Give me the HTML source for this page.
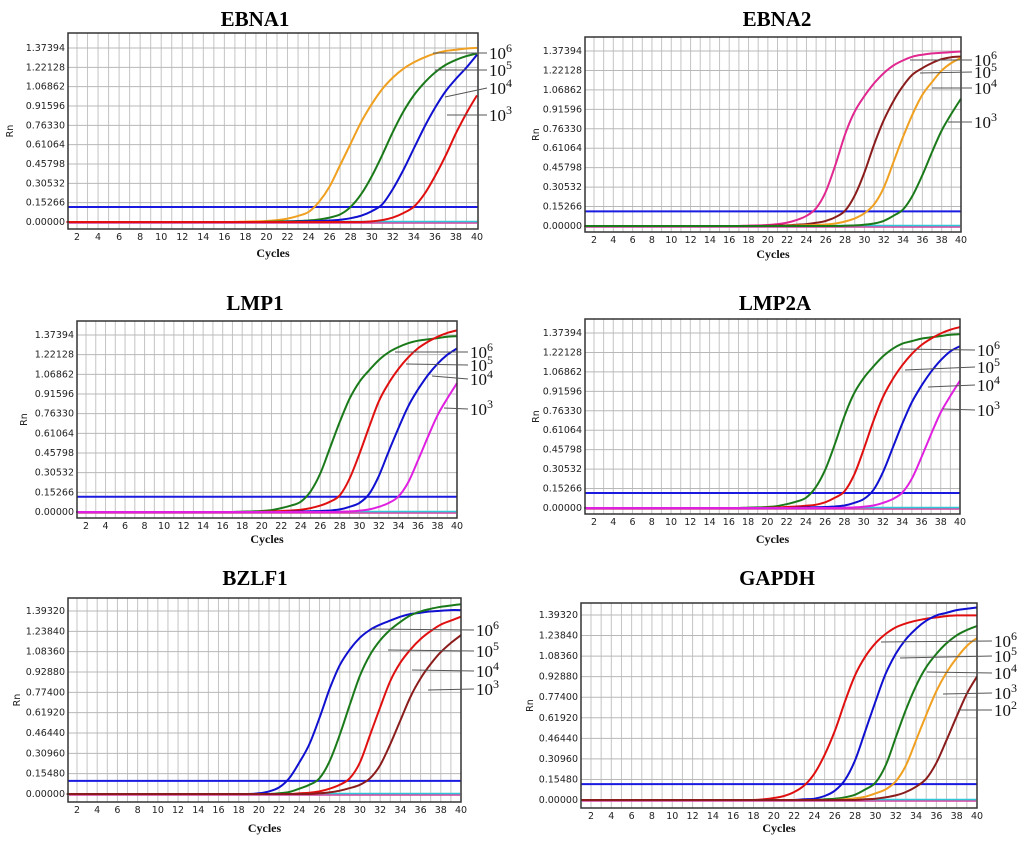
<!DOCTYPE html>
<html><head><meta charset="utf-8"><style>
html,body{margin:0;padding:0;background:#fff}
svg{display:block}
.tk{font-family:"DejaVu Sans",sans-serif;font-size:9.5px;fill:#222}
.tt{font-family:"Liberation Serif",serif;font-weight:bold;font-size:21px;fill:#000}
.cy{font-family:"Liberation Serif",serif;font-weight:bold;font-size:12px;fill:#111}
.lb{font-family:"Liberation Serif",serif;font-size:17px;fill:#111}
</style></head><body>
<svg id="fig" width="1024" height="846" viewBox="0 0 1024 846" xmlns="http://www.w3.org/2000/svg"></svg>
<script>
// cycles for which curve values are given (earlier cycles are baseline 0)
const cycles=[18,19,20,21,22,23,24,25,26,27,28,29,30,31,32,33,34,35,36,37,38,39,40];
const xTickLabels=[2,4,6,8,10,12,14,16,18,20,22,24,26,28,30,32,34,36,38,40];
const yTicksA=["0.00000","0.15266","0.30532","0.45798","0.61064","0.76330","0.91596","1.06862","1.22128","1.37394"];
const yTicksB=["0.00000","0.15480","0.30960","0.46440","0.61920","0.77400","0.92880","1.08360","1.23840","1.39320"];
const titles=["EBNA1","EBNA2","LMP1","LMP2A","BZLF1","GAPDH"];
const thresholds=[0.118,0.115,0.118,0.118,0.10,0.12];
const copyLabels=["6","5","4","3","2"];
// EBNA1
const e1Orange=[0.003,0.005,0.008,0.015,0.027,0.048,0.08,0.16,0.28,0.45,0.62,0.79,0.93,1.05,1.14,1.21,1.26,1.30,1.33,1.35,1.36,1.37,1.375];
const e1Green=[0,0,0.002,0.004,0.006,0.008,0.012,0.02,0.035,0.06,0.12,0.22,0.36,0.53,0.71,0.87,1.0,1.1,1.18,1.24,1.28,1.31,1.33];
const e1Blue=[0,0,0,0,0.002,0.004,0.006,0.008,0.012,0.018,0.03,0.05,0.085,0.14,0.26,0.41,0.58,0.75,0.9,1.03,1.13,1.22,1.32];
const e1Red=[0,0,0,0,0,0,0,0,0,0,0,0,0.005,0.015,0.035,0.07,0.12,0.22,0.36,0.52,0.7,0.86,1.0];
// EBNA2
const e2Pink=[0.003,0.005,0.008,0.015,0.027,0.048,0.08,0.14,0.27,0.48,0.72,0.9,1.02,1.12,1.2,1.26,1.3,1.33,1.345,1.355,1.36,1.365,1.37];
const e2Brown=[0,0,0.002,0.004,0.006,0.01,0.015,0.025,0.04,0.07,0.12,0.24,0.42,0.64,0.83,0.98,1.1,1.19,1.24,1.28,1.31,1.325,1.33];
const e2Orange=[0,0,0,0,0.002,0.004,0.006,0.008,0.012,0.02,0.035,0.06,0.1,0.17,0.3,0.5,0.7,0.88,1.03,1.13,1.22,1.28,1.32];
const e2Green=[0,0,0,0,0,0,0,0,0,0,0.002,0.005,0.01,0.02,0.04,0.08,0.13,0.24,0.4,0.58,0.75,0.88,1.0];
// LMP1
const l1Green=[0.003,0.005,0.008,0.015,0.03,0.05,0.08,0.16,0.3,0.5,0.7,0.88,1.01,1.1,1.18,1.24,1.28,1.31,1.33,1.34,1.35,1.36,1.365];
const l1Red=[0,0,0.002,0.004,0.008,0.012,0.018,0.03,0.05,0.08,0.13,0.26,0.45,0.66,0.86,1.0,1.11,1.2,1.27,1.32,1.36,1.39,1.41];
const l1Blue=[0,0,0,0,0,0.002,0.004,0.006,0.008,0.012,0.02,0.04,0.07,0.14,0.28,0.47,0.65,0.82,0.95,1.06,1.15,1.22,1.27];
const l1Magenta=[0,0,0,0,0,0,0,0,0,0,0.002,0.005,0.01,0.02,0.04,0.07,0.12,0.23,0.4,0.58,0.75,0.88,1.0];
// LMP2A
const l2Green=[0.003,0.005,0.008,0.015,0.03,0.05,0.08,0.16,0.3,0.5,0.72,0.9,1.02,1.11,1.19,1.25,1.29,1.31,1.33,1.34,1.35,1.36,1.365];
const l2Red=[0,0,0.002,0.004,0.008,0.012,0.018,0.025,0.045,0.08,0.13,0.26,0.46,0.68,0.87,1.01,1.12,1.21,1.28,1.33,1.37,1.4,1.42];
const l2Blue=[0,0,0,0,0,0.002,0.004,0.006,0.008,0.012,0.02,0.04,0.07,0.14,0.28,0.47,0.66,0.83,0.96,1.07,1.16,1.23,1.27];
const l2Magenta=[0,0,0,0,0,0,0,0,0,0,0.002,0.005,0.01,0.02,0.04,0.07,0.12,0.23,0.4,0.58,0.75,0.88,1.0];
// BZLF1
const bzBlue=[0,0,0.005,0.02,0.05,0.12,0.24,0.38,0.58,0.8,0.98,1.1,1.19,1.25,1.29,1.32,1.35,1.37,1.38,1.39,1.395,1.4,1.4];
const bzGreen=[0,0,0,0,0.005,0.015,0.04,0.07,0.12,0.25,0.45,0.68,0.9,1.06,1.17,1.25,1.31,1.36,1.39,1.41,1.425,1.435,1.445];
const bzRed=[0,0,0,0,0,0,0.005,0.01,0.02,0.04,0.07,0.12,0.24,0.45,0.66,0.86,1.0,1.1,1.18,1.24,1.29,1.32,1.35];
const bzBrown=[0,0,0,0,0,0,0,0,0.005,0.012,0.025,0.045,0.07,0.12,0.22,0.38,0.56,0.74,0.88,0.99,1.08,1.15,1.21];
// GAPDH
const gRed=[0,0.005,0.015,0.03,0.06,0.11,0.2,0.34,0.52,0.74,0.94,1.08,1.18,1.25,1.3,1.33,1.35,1.365,1.375,1.385,1.39,1.39,1.39];
const gBlue=[0,0,0,0,0,0.005,0.01,0.03,0.07,0.15,0.3,0.52,0.74,0.95,1.1,1.21,1.29,1.35,1.39,1.41,1.43,1.44,1.45];
const gGreen=[0,0,0,0,0,0,0,0.005,0.01,0.02,0.04,0.08,0.13,0.26,0.47,0.68,0.86,1.0,1.1,1.18,1.24,1.28,1.31];
const gOrange=[0,0,0,0,0,0,0,0,0,0.005,0.012,0.025,0.05,0.08,0.14,0.26,0.45,0.64,0.82,0.96,1.07,1.16,1.22];
const gBrown=[0,0,0,0,0,0,0,0,0,0,0,0.005,0.01,0.02,0.035,0.06,0.1,0.16,0.28,0.45,0.63,0.8,0.93];

const NS="http://www.w3.org/2000/svg";
const fig=document.getElementById('fig');
function mk(tag,attrs,parent){const e=document.createElementNS(NS,tag);for(const k in attrs)e.setAttribute(k,attrs[k]);(parent||fig).appendChild(e);return e;}
function smooth(pts){let d='M'+pts[0][0].toFixed(1)+','+pts[0][1].toFixed(1);
  for(let i=0;i<pts.length-1;i++){const p0=pts[i-1]||pts[i],p1=pts[i],p2=pts[i+1],p3=pts[i+2]||p2;
    const c1=[p1[0]+(p2[0]-p0[0])/6,p1[1]+(p2[1]-p0[1])/6],c2=[p2[0]-(p3[0]-p1[0])/6,p2[1]-(p3[1]-p1[1])/6];
    d+=` C${c1[0].toFixed(1)},${c1[1].toFixed(1)} ${c2[0].toFixed(1)},${c2[1].toFixed(1)} ${p2[0].toFixed(1)},${p2[1].toFixed(1)}`;}
  return d;}

const panels=[
 {L:68,T:33,R:478,B:229,x2:77,x40:477,y0:222,yTop:48,ticks:yTicksA,tx:255,ty:26,cyY:257,rnX:13,
  series:[[e1Orange,"#f0a020"],[e1Green,"#1a7a1a"],[e1Blue,"#1010d0"],[e1Red,"#e01010"]],
  lab:{x:489,ys:[53,70,88,115],from:[[433,53],[435,70],[445,97],[447,115]]}},
 {L:585,T:37,R:961,B:232,x2:594,x40:961,y0:226,yTop:51,ticks:yTicksA,tx:777,ty:26,cyY:258,rnX:539,
  series:[[e2Pink,"#e02890"],[e2Brown,"#8b1c1c"],[e2Orange,"#f0a020"],[e2Green,"#1a7a1a"]],
  lab:{x:974,ys:[60,72,88,122],from:[[910,60],[920,73],[932,88],[948,122]]}},
 {L:77,T:321,R:457,B:518,x2:86,x40:457,y0:512,yTop:335,ticks:yTicksA,tx:255,ty:310,cyY:543,rnX:27,
  series:[[l1Green,"#1a7a1a"],[l1Red,"#e01010"],[l1Blue,"#1010d0"],[l1Magenta,"#e020e0"]],
  lab:{x:470,ys:[352,365,379,409],from:[[395,352],[406,364],[432,376],[444,408]]}},
 {L:585,T:319,R:960,B:514,x2:594,x40:960,y0:508,yTop:333,ticks:yTicksA,tx:775,ty:310,cyY:543,rnX:539,
  series:[[l2Green,"#1a7a1a"],[l2Red,"#e01010"],[l2Blue,"#1010d0"],[l2Magenta,"#e020e0"]],
  lab:{x:977,ys:[350,367,385,410],from:[[900,349],[905,370],[928,387],[943,409]]}},
 {L:68,T:598,R:461,B:802,x2:77,x40:461,y0:794,yTop:611,ticks:yTicksB,tx:255,ty:585,cyY:832,rnX:20,
  series:[[bzBlue,"#1010d0"],[bzGreen,"#1a7a1a"],[bzRed,"#e01010"],[bzBrown,"#8b1c1c"]],
  lab:{x:476,ys:[630,651,671,689],from:[[372,629],[388,650],[412,670],[428,690]]}},
 {L:581,T:603,R:977,B:808,x2:591,x40:977,y0:800,yTop:615,ticks:yTicksB,tx:777,ty:585,cyY:832,rnX:533,
  series:[[gRed,"#e01010"],[gBlue,"#1010d0"],[gGreen,"#1a7a1a"],[gOrange,"#f0a020"],[gBrown,"#8b1c1c"]],
  lab:{x:994,ys:[641,656,673,693,710],from:[[881,642],[900,658],[927,672],[943,694],[958,710]]}}
];

panels.forEach((p,i)=>{
  const g=mk('g',{});
  
  
  const xs=c=>p.x2+(c-2)*(p.x40-p.x2)/38;
  const ymax=parseFloat(p.ticks[p.ticks.length-1]);
  const ys=v=>p.y0-v*(p.y0-p.yTop)/ymax;
  const t=mk('text',{x:p.tx,y:p.ty,'text-anchor':'middle',class:'tt'},g);t.textContent=titles[i];
  
  
  mk('rect',{x:p.L,y:p.T,width:p.R-p.L,height:p.B-p.T,fill:'#fff'},g);
  for(let c=1;c<=40;c++){const x=xs(c);if(x>p.L+1&&x<p.R-1)mk('line',{x1:x,x2:x,y1:p.T,y2:p.B,stroke:'#c4c4c4','stroke-width':1},g);}
  p.ticks.forEach(tk=>{const y=ys(parseFloat(tk));
    mk('line',{x1:p.L,x2:p.R,y1:y,y2:y,stroke:'#b8b8b8','stroke-width':1},g);
    const tl=mk('text',{x:p.L-3,y:y+3,'text-anchor':'end',class:'tk'},g);tl.textContent=tk;
    
    });
  xTickLabels.forEach(c=>{const tl=mk('text',{x:xs(c),y:p.B+11,'text-anchor':'middle',class:'tk'},g);tl.textContent=c;
    
    });
  const cy=mk('text',{x:(p.L+p.R)/2,y:p.cyY,'text-anchor':'middle',class:'cy'},g);cy.textContent='Cycles';
  
  
  const rn=mk('text',{x:p.rnX,y:(p.T+p.B)/2,'text-anchor':'middle',class:'tk',transform:`rotate(-90 ${p.rnX} ${(p.T+p.B)/2})`},g);rn.textContent='Rn';
  
  
  mk('line',{x1:p.L+1,x2:p.R-1,y1:ys(-0.008),y2:ys(-0.008),stroke:'#d040a0','stroke-width':1.5},g);
  mk('line',{x1:xs(25),x2:p.R-1,y1:ys(0.004),y2:ys(0.004),stroke:'#30c8d8','stroke-width':1.5},g);
  const th=mk('line',{x1:p.L,x2:p.R,y1:ys(thresholds[i]),y2:ys(thresholds[i]),stroke:'#1a1ae0','stroke-width':2},g);
  
  
  p.series.forEach(([vals,col],k)=>{
    const pts=[[xs(1),ys(0)]];
    for(let c=2;c<cycles[0];c++)pts.push([xs(c),ys(0)]);
    vals.forEach((v,j)=>pts.push([xs(cycles[j]),ys(v)]));
    const pl=mk('path',{d:smooth(pts),fill:'none',stroke:col,'stroke-width':2,'stroke-linejoin':'round'},g);
    
    
  });
  mk('rect',{x:p.L,y:p.T,width:p.R-p.L,height:p.B-p.T,fill:'none',stroke:'#333','stroke-width':1.5},g);
  p.lab.ys.forEach((ly,k)=>{
    const f=p.lab.from[k];
    mk('polyline',{points:`${f[0]},${f[1]} ${p.lab.x-2},${ly}`,fill:'none',stroke:'#555','stroke-width':1},g);
    const tx=mk('text',{x:p.lab.x,y:ly+6,class:'lb'},g);
    
    
    tx.textContent='10';
    const sp=mk('tspan',{dy:-7,'font-size':'12px'},tx);sp.textContent=copyLabels[k];
  });
});
</script>
</body></html>
